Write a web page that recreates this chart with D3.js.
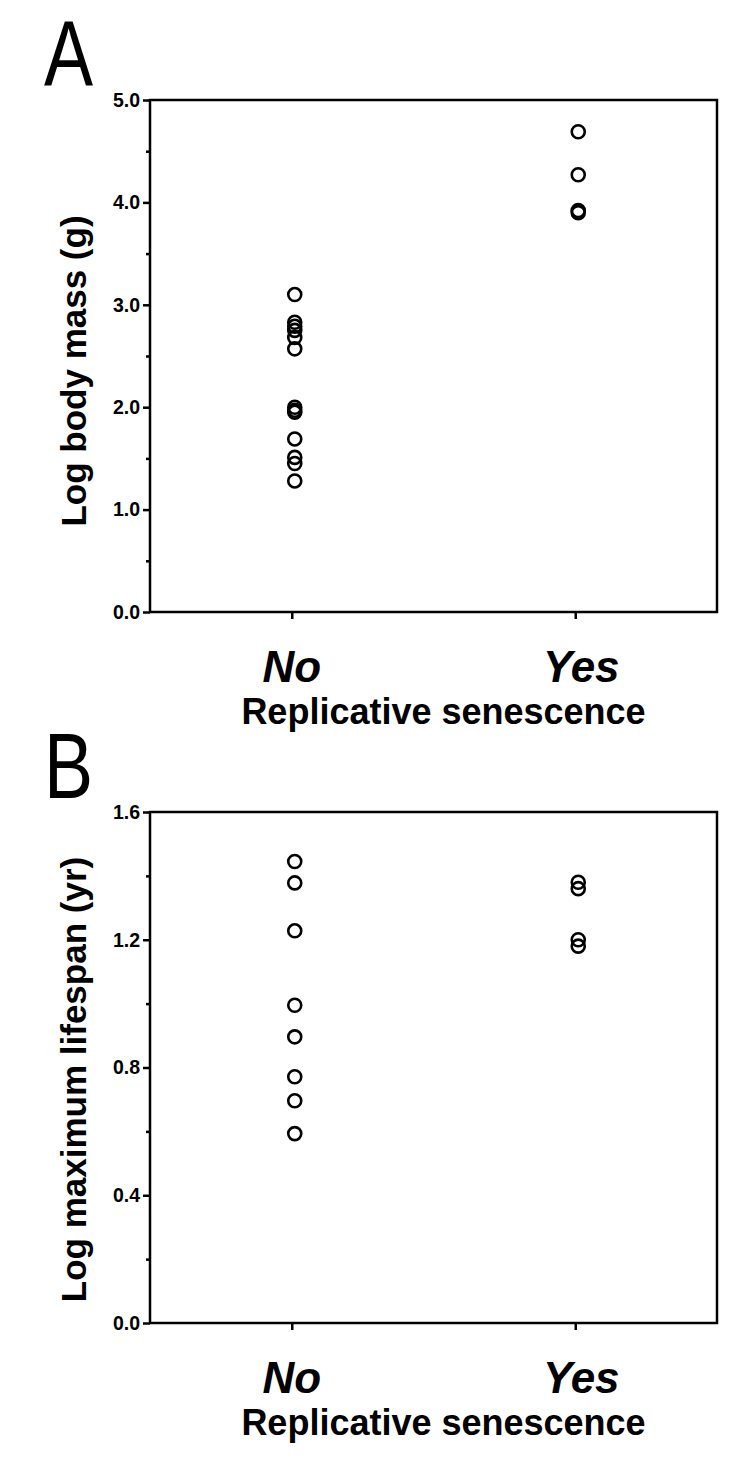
<!DOCTYPE html>
<html>
<head>
<meta charset="utf-8">
<script src="https://cdn.jsdelivr.net/npm/d3@7"></script>
<style>
  body { margin: 0; background: #fff; }
  svg { display: block; font-family: Arial, 'Liberation Sans', sans-serif; }
</style>
</head>
<body>
<div id="chart"></div>
<script>
// categories
var groups = ['No', 'Yes']

// panel A: log body mass (g)
var massNo = [3.10, 2.83, 2.79, 2.75, 2.68, 2.57, 2.00, 1.97, 1.95, 1.69, 1.51, 1.45, 1.28]
var massYes = [4.69, 4.27, 3.92, 3.90]
var massTicks = [0, 1, 2, 3, 4, 5]
var massMinor = [0.5, 1.5, 2.5, 3.5, 4.5]

// panel B: log maximum lifespan (yr)
var lifeNo = [1.445, 1.378, 1.228, 0.995, 0.896, 0.771, 0.696, 0.593]
var lifeYes = [1.38, 1.36, 1.20, 1.18]
var lifeTicks = [0, 0.4, 0.8, 1.2, 1.6]
var lifeMinor = [0.2, 0.6, 1.0, 1.4]

var svg = d3.select('#chart')
  .append('svg')
  .attr('width', 750)
  .attr('height', 1477)

var left = 150
var right = 717

var panels = [
  {
    letter: 'A', letterY: 86, top: 100, bottom: 612, domain: [0, 5],
    ticks: massTicks, minor: massMinor, fmt: d3.format('.1f'),
    ylabel: 'Log body mass (g)', labelShift: 15, no: massNo, yes: massYes
  },
  {
    letter: 'B', letterY: 798, top: 812, bottom: 1323, domain: [0, 1.6],
    ticks: lifeTicks, minor: lifeMinor, fmt: d3.format('.1f'),
    ylabel: 'Log maximum lifespan (yr)', labelShift: 12, no: lifeNo, yes: lifeYes
  }
]

var xPositionScale = d3.scalePoint()
  .domain(groups)
  .range([left, right])
  .padding(0.5)

panels.forEach(function(p) {
  var g = svg.append('g')

  var yPositionScale = d3.scaleLinear()
    .domain(p.domain)
    .range([p.bottom, p.top])

  // panel letter
  g.append('text')
    .text(p.letter)
    .attr('transform', 'translate(44,' + p.letterY + ') scale(0.8,1)')
    .attr('font-size', 92)
    .attr('font-weight', 'normal')

  // box
  g.append('rect')
    .attr('x', left)
    .attr('y', p.top)
    .attr('width', right - left)
    .attr('height', p.bottom - p.top)
    .attr('fill', 'none')
    .attr('stroke', '#000')
    .attr('stroke-width', 2.5)

  // y axis
  var yAxis = d3.axisLeft(yPositionScale)
    .tickValues(p.ticks)
    .tickFormat(p.fmt)
    .tickSize(7)
    .tickPadding(3)
  var ya = g.append('g')
    .attr('class', 'axis y-axis')
    .attr('transform', 'translate(' + left + ',0)')
    .call(yAxis)
  ya.select('.domain').remove()
  ya.selectAll('line').attr('stroke-width', 2.5)
  ya.selectAll('text')
    .attr('font-size', 19.5)
    .attr('font-weight', 'bold')
    .attr('font-family', 'Arial, Liberation Sans, sans-serif')

  var yMinor = d3.axisLeft(yPositionScale)
    .tickValues(p.minor)
    .tickFormat('')
    .tickSize(4)
  var ym = g.append('g')
    .attr('transform', 'translate(' + left + ',0)')
    .call(yMinor)
  ym.select('.domain').remove()
  ym.selectAll('line').attr('stroke-width', 2.5)

  // x axis
  var xAxis = d3.axisBottom(xPositionScale)
    .tickSize(7)
    .tickFormat('')
  var xa = g.append('g')
    .attr('class', 'axis x-axis')
    .attr('transform', 'translate(0,' + p.bottom + ')')
    .call(xAxis)
  xa.select('.domain').remove()
  xa.selectAll('line').attr('stroke-width', 2.5)

  // category labels
  g.selectAll('.cat')
    .data(groups)
    .enter()
    .append('text')
    .attr('class', 'cat')
    .text(function(d) { return d })
    .attr('x', function(d) { return xPositionScale(d) + (d === 'Yes' ? 6 : 0) })
    .attr('y', p.bottom + 70)
    .attr('text-anchor', 'middle')
    .attr('font-size', 44)
    .attr('font-weight', 'bold')
    .attr('font-style', 'italic')

  g.append('text')
    .text('Replicative senescence')
    .attr('x', (left + right) / 2 + 10)
    .attr('y', p.bottom + 112)
    .attr('text-anchor', 'middle')
    .attr('font-size', 36)
    .attr('font-weight', 'bold')

  // y label
  g.append('text')
    .text(p.ylabel)
    .attr('transform', 'translate(86,' + ((p.top + p.bottom) / 2 + p.labelShift) + ') rotate(-90)')
    .attr('text-anchor', 'middle')
    .attr('font-size', 35)
    .attr('font-weight', 'bold')

  // points
  var pts = p.no.map(function(v) { return { group: 'No', value: v } })
    .concat(p.yes.map(function(v) { return { group: 'Yes', value: v } }))

  g.selectAll('.pt')
    .data(pts)
    .enter()
    .append('circle')
    .attr('class', 'pt')
    .attr('cx', function(d) { return xPositionScale(d.group) + 3 })
    .attr('cy', function(d) { return yPositionScale(d.value) })
    .attr('r', 6.5)
    .attr('fill', 'none')
    .attr('stroke', '#000')
    .attr('stroke-width', 2.6)
})
</script>
</body>
</html>
